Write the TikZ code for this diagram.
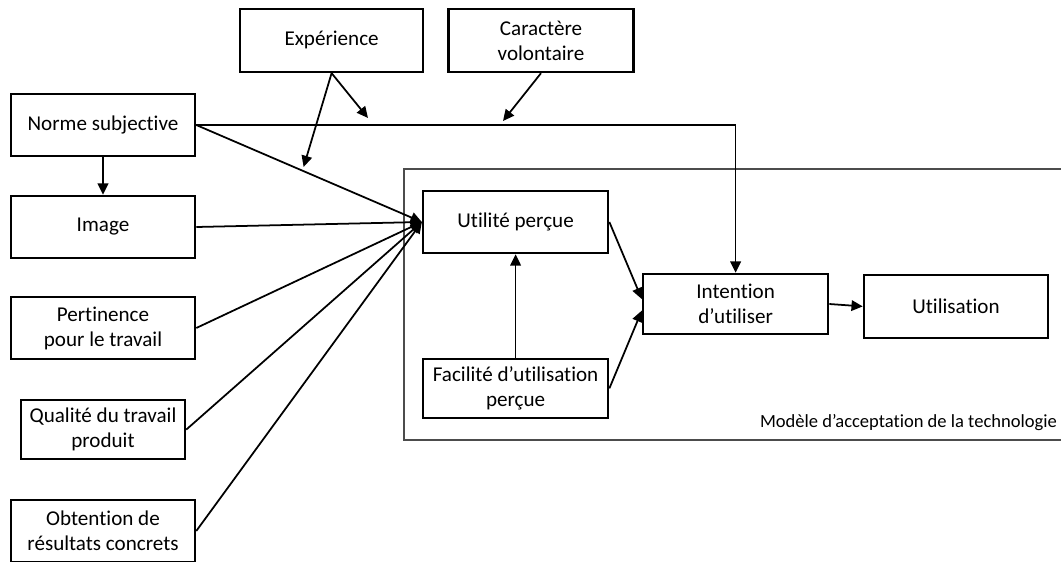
\documentclass[tikz,border=0pt]{standalone}
\usepackage{fontspec}
\setmainfont{Carlito}[Ligatures=NoCommon]
\usetikzlibrary{arrows.meta}

\begin{document}
\begin{tikzpicture}[
    % Стиль для блоков: прямоугольник с толстой рамкой
    box/.style={rectangle, draw, line width=1.8pt, minimum width=4.625cm, minimum height=1.55cm, inner sep=2pt, align=center, font=\fontsize{15}{17.8}\selectfont},
    % Стиль для стрелок: линия с треугольным наконечником
    arrow/.style={line width=1.25pt, -{Triangle[length=8pt, width=7.5pt]}},
    % Стиль для линий без наконечника
    link/.style={line width=1.25pt}
]

    \useasboundingbox (0,0) rectangle (26.525,-14.025);

    % --- Рамка модели (правый край уходит за границу) ---
    \draw[black!70, line width=0.8pt] (10.1,-4.225) rectangle (26.7,-11.0);
    \node[anchor=east, inner sep=0pt, font=\fontsize{13.2}{15}\selectfont] (tamlabel) at (26.43,-10.56) {Modèle d’acceptation de la technologie};

    % --- Модераторы сверху ---
    \node[box, minimum width=4.575cm, minimum height=1.575cm] (exp) at (8.29, -1.01) {Expérience};
    \node[box, minimum height=1.575cm] (vol) at (13.525, -1.01) {Caractère\\volontaire};

    % --- Левая колонка (X = 2.575) ---
    \node[box, minimum width=4.6cm] (norme) at (2.575, -3.125) {Norme subjective};
    \node[box, minimum width=4.6cm] (image) at (2.575, -5.675) {Image};
    \node[box, minimum width=4.6cm] (pert) at (2.575, -8.2) {Pertinence\\pour le travail};
    \node[box, minimum width=4.1cm, minimum height=1.475cm] (qual) at (2.575, -10.74) {Qualité du travail\\produit};
    \node[box, minimum width=4.6cm] (obt) at (2.575, -13.275) {Obtention de\\résultats concrets};

    % --- Блоки модели ---
    \node[box] (util) at (12.89, -5.55) {Utilité perçue};
    \node[box, minimum height=1.475cm] (facil) at (12.89, -9.71) {Facilité d’utilisation\\perçue};
    \node[box, minimum height=1.5cm] (intent) at (18.39, -7.6) {Intention\\d’utiliser};
    \node[box, minimum width=4.6cm, minimum height=1.575cm] (usage) at (23.9, -7.66) {Utilisation};

    % --- Концы стрелок модераторов ---
    \coordinate (expA) at (9.2, -2.95);
    \coordinate (expB) at (7.59, -4.175);
    \coordinate (volA) at (12.575, -3.025);

    % --- Норма -> намерение ---
    \draw[arrow] (norme.east) -| (intent.north);
    \draw[arrow] (norme.south) -- (image.north);

    % --- Все входы в полезность ---
    \draw[arrow] (norme.east) -- (util.west);
    \draw[arrow] (image.east) -- (util.west);
    \draw[arrow] (pert.east) -- (util.west);
    \draw[arrow] (qual.east) -- (util.west);
    \draw[arrow] (obt.east) -- (util.west);

    % --- Модераторы ---
    \draw[arrow] (exp.south) -- (expA);
    \draw[arrow] (exp.south) -- (expB);
    \draw[arrow] (vol.south) -- (volA);

    % --- Внутри модели ---
    \draw[arrow] (facil.north) -- (util.south);
    \draw[arrow] (util.east) -- (intent.177);
    \draw[arrow] (facil.east) -- (intent.184);
    \draw[arrow] (intent.east) -- (usage.west);

\end{tikzpicture}
\end{document}
